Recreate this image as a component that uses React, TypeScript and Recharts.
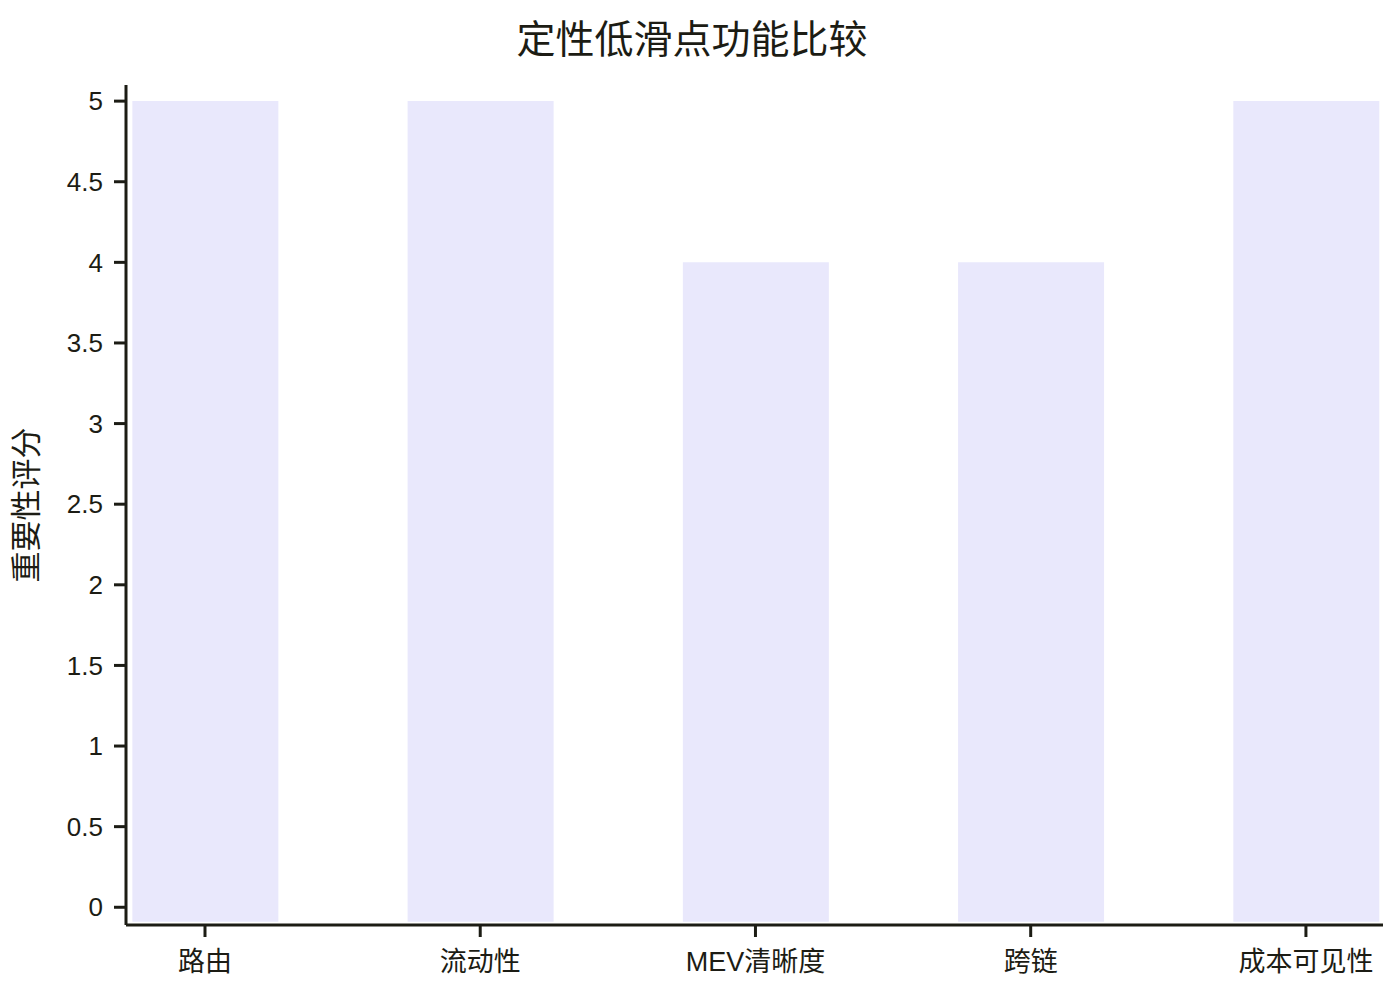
import { Bar, BarChart, XAxis, YAxis } from 'recharts';

const categories = ['路由', '流动性', 'MEV清晰度', '跨链', '成本可见性'];
const scores = [5, 5, 4, 4, 5];
const yTicks = [0, 0.5, 1, 1.5, 2, 2.5, 3, 3.5, 4, 4.5, 5];

const TITLE = '定性低滑点功能比较';
const Y_LABEL = '重要性评分';

// y축이 0 아래로 조금 내려가 있고, 막대는 축선 바로 위까지 채워짐
const Y_DOMAIN: [number, number] = [-0.11, 5.1];
const BAR_BASE = -0.09;

const FONT = '"Liberation Sans", Arial, "Noto Sans CJK SC", sans-serif';
const INK = '#1c1c14';

const data = categories.map((name, i) => ({
  name,
  pos: i,
  score: scores[i],
  range: [BAR_BASE, scores[i]],
}));

function YLabel({ viewBox }: any) {
  const cy = viewBox.y + viewBox.height / 2;
  return (
    <text
      x={18}
      y={cy}
      transform={`rotate(-90 18 ${cy})`}
      textAnchor="middle"
      dominantBaseline="central"
      fill={INK}
      fontSize={31}
      fontFamily={FONT}
    >
      {Y_LABEL}
    </text>
  );
}

export default function App() {
  return (
    <div style={{ position: 'relative', width: 1384, height: 984, fontFamily: FONT }}>
      <div
        style={{
          position: 'absolute',
          top: 10,
          left: 0,
          width: 1368,
          textAlign: 'center',
          fontSize: 39,
          lineHeight: '44px',
          color: INK,
        }}
      >
        {TITLE}
      </div>
      <BarChart width={1384} height={984} data={data} margin={{ top: 77, right: 9, bottom: 0, left: 0 }}>
        <XAxis
          dataKey="pos"
          type="number"
          domain={[-0.287, 4.28]}
          ticks={[0, 1, 2, 3, 4]}
          tickFormatter={(v: number) => categories[v] ?? ''}
          allowDataOverflow
          height={67}
          stroke={INK}
          axisLine={{ stroke: INK, strokeWidth: 3 }}
          tickLine={{ stroke: INK, strokeWidth: 3 }}
          tickSize={12}
          tickMargin={15}
          tick={{ fill: INK, fontSize: 27, fontFamily: FONT }}
        />
        <YAxis
          type="number"
          domain={Y_DOMAIN}
          ticks={yTicks}
          allowDataOverflow
          width={118}
          stroke={INK}
          axisLine={{ stroke: INK, strokeWidth: 3 }}
          tickLine={{ stroke: INK, strokeWidth: 3 }}
          tickSize={12}
          tickMargin={11}
          tick={{ fill: INK, fontSize: 26, fontFamily: FONT }}
          label={<YLabel />}
        />
        <Bar dataKey="range" fill="#e9e8fc" barSize={146} isAnimationActive={false} />
      </BarChart>
    </div>
  );
}
